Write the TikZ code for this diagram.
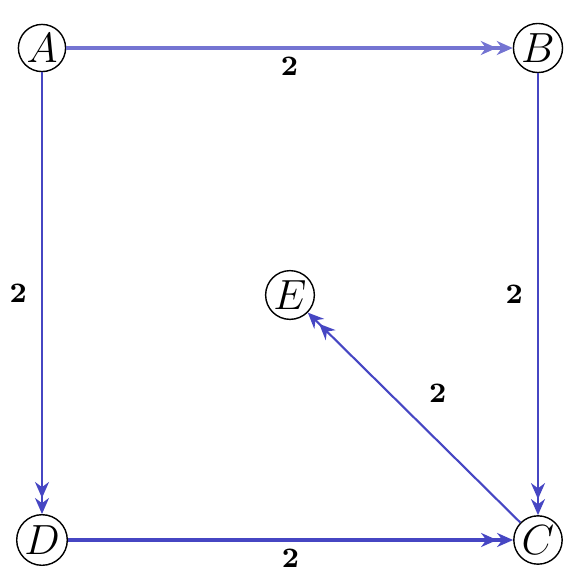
\documentclass[tikz,border=0pt]{standalone}
\usepackage{amsmath,amssymb}
\usetikzlibrary{arrows.meta}
\definecolor{azul}{RGB}{70,70,195}
\tikzset{
  vert/.style={draw, circle, thin, minimum size=4.4mm, inner sep=0.5pt, font=\large},
  fl/.style={-{Stealth[length=1.6mm,width=1.4mm]Stealth[length=1.6mm,width=1.4mm]}, semithick, azul},
  flg/.style={fl, very thick, azul!75},
  peso/.style={font=\footnotesize\bfseries, text=black, inner sep=2pt},
}
\begin{document}
\begin{tikzpicture}
  \useasboundingbox (0,0) rectangle (5.88,5.76);
  \node[vert] (A) at (0.42,5.28) {$A$};
  \node[vert] (B) at (5.38,5.28) {$B$};
  \node[vert] (E) at (2.90,2.81) {$E$};
  \node[vert] (D) at (0.42,0.36) {$D$};
  \node[vert] (C) at (5.38,0.36) {$C$};
  \draw[flg] (A) -- node[peso, below=0pt]{2} (B);
  \draw[fl] (A) -- node[peso, left=2pt]{2} (D);
  \draw[fl] (B) -- node[peso, left=2pt]{2} (C);
  \draw[fl, very thick] (D) -- node[peso, below=0pt]{2} (C);
  \draw[fl] (C) -- node[peso, above right=2pt]{2} (E);
\end{tikzpicture}
\end{document}
